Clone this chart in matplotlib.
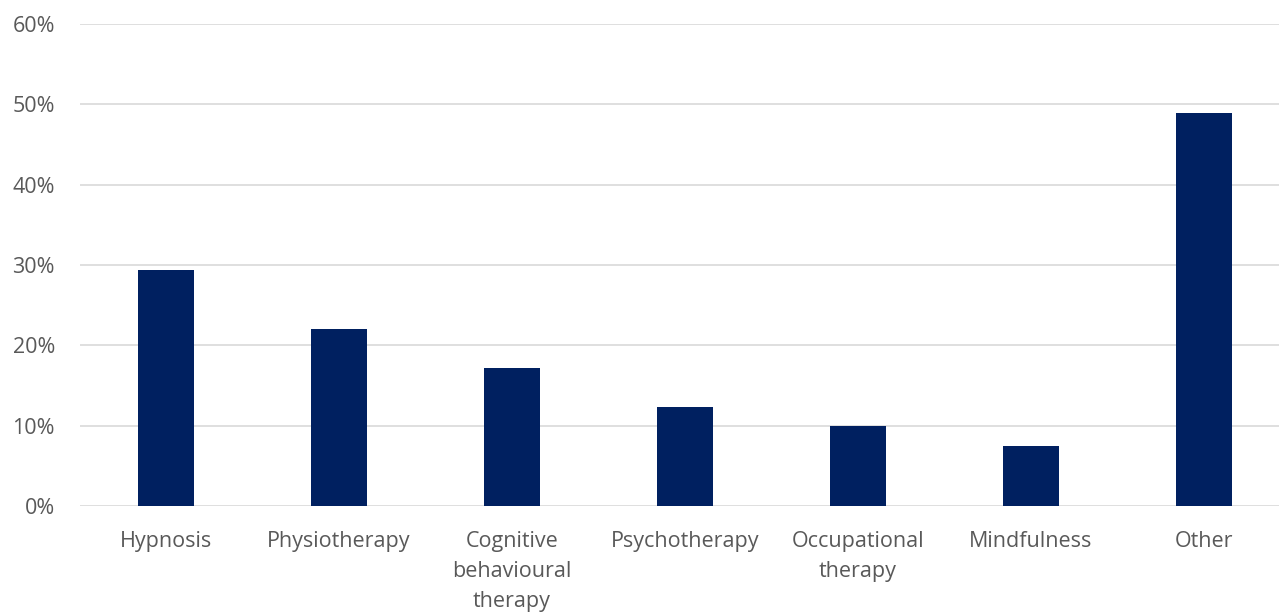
import numpy as np
import matplotlib.pyplot as plt
from matplotlib.ticker import PercentFormatter

categories = ["Hypnosis", "Physiotherapy", "Cognitive\nbehavioural\ntherapy",
              "Psychotherapy", "Occupational\ntherapy", "Mindfulness", "Other"]
shares = [29.4, 22.0, 17.2, 12.3, 9.9, 7.5, 48.9]

plt.rcParams['font.family'] = ['Open Sans', 'DejaVu Sans']

fig = plt.figure(figsize=(12.79, 6.12), dpi=100)
ax = fig.add_axes([80/1279, 106/612, 1199/1279, 482/612])

x = np.arange(len(categories))
ax.bar(x, shares, width=0.324, color='#002060', zorder=3)

ax.set_xlim(-0.497, 6.434)
ax.set_ylim(0, 60)
ax.set_yticks(np.arange(0, 61, 10))
ax.yaxis.set_major_formatter(PercentFormatter(decimals=0))
ax.grid(axis='y', color='#dcdcdc', linewidth=1.3, zorder=0)
ax.set_xticks(x)
ax.set_xticklabels(categories, linespacing=1.55)

for s in ax.spines.values():
    s.set_visible(False)
ax.tick_params(axis='both', length=0, colors='#595959', labelsize=15.5)
ax.tick_params(axis='y', pad=18)
ax.tick_params(axis='x', pad=18)

fig.savefig('out.png', dpi=100)
